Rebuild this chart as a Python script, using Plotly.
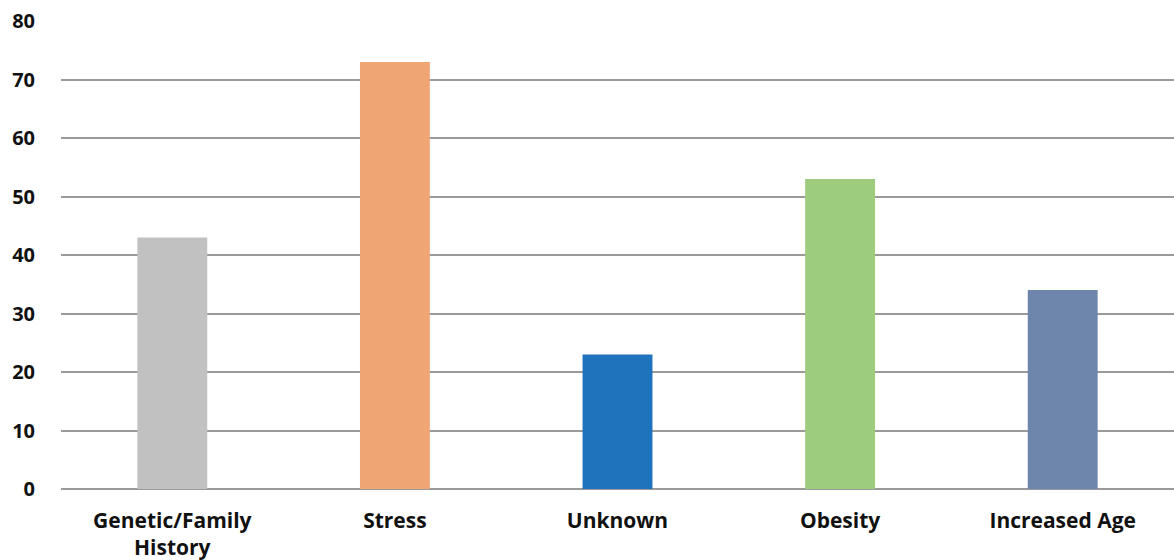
import plotly.graph_objects as go

categories = ["Genetic/Family<br>History", "Stress", "Unknown", "Obesity", "Increased Age"]
values = [43, 73, 23, 53, 34]
colors = ["#C1C1C1", "#F0A574", "#1F73BD", "#9CCC7C", "#6E86AB"]
y_ticks = [0, 10, 20, 30, 40, 50, 60, 70, 80]

fig = go.Figure(
    go.Bar(
        x=categories,
        y=values,
        marker=dict(color=colors, line=dict(width=0)),
        hoverinfo="x+y",
    )
)

font_family = "Open Sans, Lato, sans-serif"

fig.update_layout(
    width=1174,
    height=560,
    margin=dict(l=61, r=0, t=21, b=71),
    plot_bgcolor="white",
    paper_bgcolor="white",
    bargap=0.686,
    showlegend=False,
    font=dict(family=font_family, size=20, color="#111111"),
)

fig.update_xaxes(
    automargin=False,
    showgrid=False,
    showline=False,
    ticks="",
    tickfont=dict(family=font_family, size=21, color="#111111", weight="bold"),
    ticklabelstandoff=17,
)

fig.update_yaxes(
    automargin=False,
    range=[0, 80],
    tickvals=y_ticks,
    showgrid=True,
    gridcolor="#9A9A9A",
    gridwidth=1.6,
    zeroline=True,
    zerolinecolor="#9A9A9A",
    zerolinewidth=1.6,
    showline=False,
    ticks="",
    tickfont=dict(family=font_family, size=20, color="#111111", weight="bold"),
    ticklabelstandoff=25,
)

fig.write_html("out.html")
